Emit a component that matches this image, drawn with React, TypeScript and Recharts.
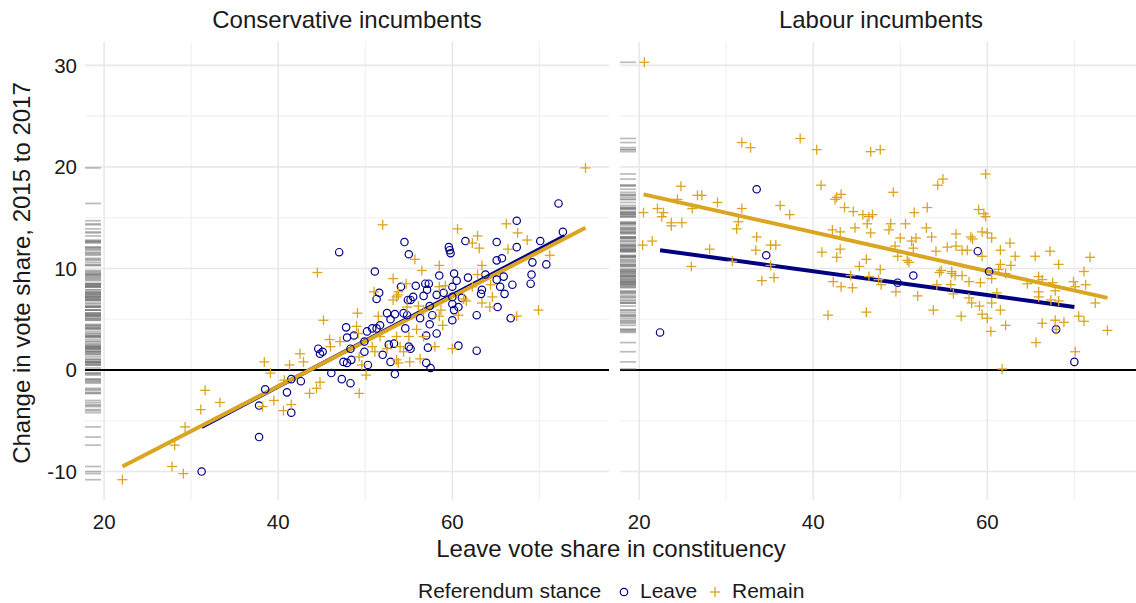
import React from 'react';
import { ScatterChart, Scatter, XAxis, YAxis, CartesianGrid, ReferenceLine } from 'recharts';

const FONT = '"Liberation Sans", Arial, Helvetica, sans-serif';
const LEAVE_COLOR = '#00008B';
const LEAVE_LINE = '#000080';
const REMAIN_COLOR = '#DAA520';

const xTicks = [20, 40, 60];
const xMinor = [30, 50, 70];
const yTicks = [-10, 0, 10, 20, 30];
const yMinor = [-5, 5, 15, 25];
const xDomain: [number, number] = [17.8, 78.0];
const yDomain: [number, number] = [-12.8, 32.3];

const panelTitles = ['Conservative incumbents', 'Labour incumbents'];
const stanceLabels = ['Leave', 'Remain'];
const legendTitle = 'Referendum stance';
const xTitle = 'Leave vote share in constituency';
const yTitle = 'Change in vote share, 2015 to 2017';

// Conservative incumbents
const conLeave: [number, number][] = [
  [31.2, -10.0], [37.8, -6.6], [37.8, -3.5], [38.5, -1.9], [41.0, -2.2], [41.5, -0.9], [42.6, -1.1], [41.5, -4.2],
  [47.0, 11.6], [54.5, 12.6], [55.0, 11.4], [51.1, 9.7], [54.1, 8.2], [51.6, 7.6], [51.3, 7.0], [47.8, 4.2],
  [48.7, 3.4], [47.9, 3.2], [44.6, 2.1], [45.1, 1.8], [44.8, 1.6], [48.3, 2.1], [47.5, 0.8], [47.9, 0.7],
  [48.4, 1.0], [46.1, -0.3], [47.3, -0.9], [48.3, -1.3], [50.2, 3.8], [50.8, 4.1], [51.3, 4.1], [51.7, 4.4],
  [52.9, 5.0], [52.5, 5.6], [53.4, 5.5], [52.7, 2.5], [53.3, 2.6], [52.0, 1.5], [52.9, 0.8], [53.4, -0.4],
  [50.3, 0.5], [49.9, 1.8], [49.9, 2.8], [55.0, 2.3], [54.6, 4.1], [54.8, 5.4],
  [67.4, 14.7], [72.2, 16.4], [59.6, 12.1], [59.7, 11.8], [59.8, 11.5], [61.5, 12.7], [65.1, 12.6], [67.4, 12.1],
  [70.1, 12.7], [65.1, 10.8], [65.7, 11.0], [69.2, 10.6], [70.8, 10.4], [69.1, 9.4], [69.0, 8.5], [58.5, 9.3],
  [60.2, 9.5], [60.5, 8.8], [61.8, 9.1], [63.8, 9.4], [65.1, 8.9], [65.9, 9.2], [66.9, 8.4], [65.5, 8.2],
  [63.4, 7.9], [63.3, 7.5], [66.0, 7.5], [65.2, 6.2], [62.8, 5.4], [66.7, 5.1], [60.0, 8.2], [60.0, 7.2],
  [60.0, 6.5], [60.2, 5.9], [60.7, 6.2], [61.1, 7.1], [60.0, 4.9], [56.9, 8.5], [57.3, 8.5], [57.1, 7.9],
  [55.8, 8.3], [55.2, 6.9], [54.9, 6.9], [55.5, 7.2], [56.7, 7.3], [58.2, 7.4], [59.0, 7.6], [54.4, 5.6],
  [57.4, 6.3], [57.7, 5.4], [56.3, 5.1], [57.4, 4.5], [58.2, 3.6], [57.0, 3.4], [55.2, 2.1], [57.2, 2.2],
  [60.7, 2.4], [62.8, 1.9], [57.0, 0.7], [57.5, 0.2], [72.7, 13.6],
];
const conRemain: [number, number][] = [
  [22.1, -10.8], [27.8, -9.5], [29.1, -10.2], [28.1, -7.4], [29.3, -5.6], [31.1, -3.9], [31.6, -2.0], [33.3, -3.2],
  [38.4, 0.8], [39.1, -0.3], [38.2, -3.6], [39.5, -3.0], [40.6, -4.0], [41.5, -3.4], [40.7, -1.0], [41.3, 0.5],
  [42.5, 1.6], [42.9, 0.8], [43.6, -2.3],
  [52.0, 14.3], [44.5, 9.6], [53.2, 9.0], [45.2, 4.9], [49.1, 5.6], [45.9, 3.0], [47.1, 2.8], [46.0, 2.3],
  [49.2, 3.6], [49.0, 4.3], [44.8, -1.2], [44.4, -1.8], [50.1, -0.5], [50.8, 2.3], [51.1, 1.8], [49.3, 1.3],
  [51.7, 3.3], [52.5, 2.1], [53.6, 1.0], [54.0, 2.3], [51.0, 7.7], [53.6, 7.2], [53.8, 7.7], [51.5, 5.3],
  [54.8, 6.2], [49.6, 0.5], [49.3, -2.3],
  [66.2, 14.4], [67.5, 13.5], [68.6, 12.8], [71.2, 11.3], [60.6, 13.9], [62.9, 13.2], [62.3, 12.5], [63.1, 12.0],
  [66.4, 11.9], [55.7, 10.9], [56.5, 9.8], [58.5, 10.3], [63.4, 10.3], [62.9, 9.4], [64.4, 8.4], [64.6, 7.2],
  [64.3, 6.2], [63.4, 6.6], [62.3, 8.2], [61.3, 7.0], [53.8, 7.4], [53.2, 6.9], [54.7, 8.5], [58.5, 8.2],
  [59.2, 8.3], [58.7, 5.9], [58.5, 5.3], [60.7, 5.4], [61.6, 6.8], [56.1, 6.3], [56.7, 5.9], [58.9, 4.4],
  [58.0, 2.3], [60.0, 2.1], [56.3, 1.1], [55.1, 0.8], [53.8, 0.7], [54.4, 1.8], [55.0, 3.3], [55.9, 4.0],
  [56.7, 3.3], [69.9, 5.9], [67.4, 5.3], [53.6, 3.3], [75.3, 19.9],
];

// Labour incumbents
const labLeave: [number, number][] = [
  [33.5, 17.8], [34.6, 11.3], [22.4, 3.7], [49.7, 8.6], [51.5, 9.3], [58.9, 11.7], [60.2, 9.7], [67.9, 4.0], [70.0, 0.8],
];
const labRemain: [number, number][] = [
  [20.6, 30.3], [31.8, 22.4], [32.8, 21.9], [38.5, 22.8], [24.8, 18.1], [24.4, 16.8], [26.7, 17.2], [27.2, 17.2],
  [29.0, 16.5], [31.8, 15.9], [36.2, 16.2], [37.3, 15.3], [20.5, 15.5], [22.1, 15.9], [22.8, 15.5], [22.6, 15.1],
  [23.7, 14.5], [23.7, 14.2], [24.9, 14.5], [26.1, 15.9], [31.4, 14.6], [31.2, 13.9], [33.5, 13.1], [33.4, 11.8],
  [35.1, 12.3], [35.7, 12.3], [20.4, 12.3], [21.5, 12.7], [28.1, 11.9], [26.0, 10.2], [30.7, 10.7], [35.1, 10.3],
  [34.1, 8.8], [35.5, 9.1],
  [40.4, 21.7], [46.6, 21.5], [47.7, 21.7], [40.9, 18.2], [42.7, 17.0], [43.2, 17.3], [42.5, 16.8], [43.6, 16.0],
  [44.6, 15.6], [45.7, 15.3], [46.4, 15.1], [46.8, 15.3], [46.2, 14.4], [49.2, 17.5], [54.3, 18.2], [54.9, 18.8],
  [53.1, 16.0], [51.6, 15.5], [48.9, 14.4], [50.6, 14.4], [48.7, 13.8], [53.0, 14.0], [42.2, 13.8], [43.1, 13.6],
  [44.8, 14.0], [46.6, 13.5], [50.0, 13.0], [51.3, 12.7], [51.8, 13.0], [53.6, 13.1], [56.4, 13.4], [41.0, 11.6],
  [43.1, 11.9], [42.7, 11.1], [49.4, 12.2], [51.5, 12.0], [49.7, 11.2], [50.8, 10.8], [51.0, 10.6], [54.1, 11.7],
  [55.4, 12.1], [56.4, 12.2], [46.1, 10.9], [45.3, 10.2], [47.7, 9.9], [44.3, 9.3], [46.4, 9.2], [47.5, 8.9],
  [42.3, 8.7], [43.2, 8.2], [44.5, 8.1], [47.8, 8.4], [49.5, 7.7], [52.0, 7.3], [54.2, 8.4], [54.7, 9.8],
  [54.5, 9.6], [55.9, 9.5], [55.8, 8.4], [56.1, 7.5], [53.8, 5.9], [41.7, 5.4], [46.1, 5.7],
  [59.8, 19.3], [59.0, 15.8], [59.6, 15.4], [59.8, 15.1], [58.1, 13.1], [59.4, 13.6], [60.0, 13.5], [60.5, 13.0],
  [58.3, 12.9], [62.6, 12.5], [57.1, 11.8], [57.7, 11.8], [61.5, 11.8], [59.4, 11.2], [63.2, 11.2], [65.5, 11.2],
  [67.2, 11.7], [71.8, 11.1], [68.2, 10.4], [61.5, 10.4], [62.7, 10.3], [61.3, 9.9], [62.1, 9.5], [55.9, 9.7],
  [56.3, 9.3], [57.1, 9.3], [57.9, 8.7], [59.2, 8.6], [60.5, 9.0], [65.9, 9.2], [66.3, 8.9], [64.6, 8.5],
  [67.5, 8.6], [69.9, 8.7], [71.1, 9.7], [71.3, 8.4], [70.1, 8.2], [67.8, 7.8], [65.9, 7.7], [61.1, 7.6],
  [65.9, 7.2], [67.3, 6.9], [68.2, 6.8], [72.4, 6.6], [57.9, 7.1], [58.2, 6.6], [59.1, 6.3], [60.5, 6.6],
  [61.5, 5.9], [59.4, 5.5], [60.0, 5.1], [57.0, 5.3], [62.1, 4.4], [60.4, 3.8], [66.3, 4.6], [67.8, 4.9],
  [68.8, 4.7], [70.5, 5.3], [71.1, 4.8], [73.8, 3.9], [65.6, 2.7], [70.1, 1.8], [61.7, 0.1], [67.9, 4.0],
];

// Fitted lines (endpoints)
const conLeaveFit: [number, number][] = [[31.2, -5.6], [72.9, 13.2]];
const conRemainFit: [number, number][] = [[22.1, -9.5], [75.3, 14.0]];
const labLeaveFit: [number, number][] = [[22.4, 11.8], [70.0, 6.2]];
const labRemainFit: [number, number][] = [[20.5, 17.3], [73.8, 7.1]];

const toXY = (arr: [number, number][]) => arr.map(([x, y]) => ({ x, y }));
const toRug = (arrs: [number, number][][]) =>
  arrs.flat().map(([, y]) => ({ x: xDomain[0], y }));

const LeaveShape = (p: any) => (
  <circle cx={p.cx} cy={p.cy} r={3.7} fill="none" stroke={LEAVE_COLOR} strokeWidth={1.2} />
);
const RemainShape = (p: any) => (
  <g stroke={REMAIN_COLOR} strokeWidth={1.3}>
    <line x1={p.cx - 5} x2={p.cx + 5} y1={p.cy} y2={p.cy} />
    <line x1={p.cx} x2={p.cx} y1={p.cy - 5} y2={p.cy + 5} />
  </g>
);
const RugShape = (p: any) => (
  <line x1={p.cx} x2={p.cx + 16} y1={p.cy} y2={p.cy} stroke="#7a7a7a" strokeOpacity={0.5} strokeWidth={1.7} />
);

const tickStyle = { fontSize: 20.5, fill: '#1a1a1a', fontFamily: FONT };

type PanelProps = {
  leave: [number, number][];
  remain: [number, number][];
  leaveFit: [number, number][];
  remainFit: [number, number][];
  showY: boolean;
  width: number;
  margin: { top: number; right: number; bottom: number; left: number };
};

function Panel({ leave, remain, leaveFit, remainFit, showY, width, margin }: PanelProps) {
  return (
    <ScatterChart width={width} height={603} margin={margin}>
      <CartesianGrid stroke="#f0f0f0" strokeWidth={1.1} horizontalValues={yMinor} verticalValues={xMinor} />
      <CartesianGrid stroke="#e8e8e8" strokeWidth={1.6} horizontalValues={yTicks} verticalValues={xTicks} />
      <XAxis
        type="number"
        dataKey="x"
        domain={xDomain}
        ticks={xTicks}
        allowDataOverflow
        axisLine={false}
        tickLine={false}
        tickMargin={8}
        height={30}
        tick={tickStyle}
      />
      <YAxis
        type="number"
        dataKey="y"
        domain={yDomain}
        ticks={yTicks}
        allowDataOverflow
        axisLine={false}
        tickLine={false}
        width={60}
        hide={!showY}
        tick={tickStyle}
      />
      <Scatter data={toRug([leave, remain])} shape={RugShape} isAnimationActive={false} />
      <Scatter data={toXY(leave)} shape={LeaveShape} isAnimationActive={false} />
      <Scatter data={toXY(remain)} shape={RemainShape} isAnimationActive={false} />
      <ReferenceLine y={0} stroke="#000" strokeWidth={2} />
      <ReferenceLine
        segment={toXY(leaveFit)}
        stroke={LEAVE_LINE}
        strokeWidth={4}
        ifOverflow="visible"
      />
      <ReferenceLine
        segment={toXY(remainFit)}
        stroke={REMAIN_COLOR}
        strokeWidth={4}
        ifOverflow="visible"
      />
    </ScatterChart>
  );
}

export default function App() {
  return (
    <div
      style={{
        position: 'absolute',
        left: 0,
        top: 0,
        width: 1136,
        height: 603,
        overflow: 'hidden',
        background: '#fff',
        fontFamily: FONT,
      }}
    >
      <div style={{ position: 'absolute', left: 0, top: 0 }}>
        <Panel
          leave={conLeave}
          remain={conRemain}
          leaveFit={conLeaveFit}
          remainFit={conRemainFit}
          showY
          width={1136}
          margin={{ top: 42, right: 527, bottom: 73, left: 25 }}
        />
      </div>
      <div style={{ position: 'absolute', left: 0, top: 0 }}>
        <Panel
          leave={labLeave}
          remain={labRemain}
          leaveFit={labLeaveFit}
          remainFit={labRemainFit}
          showY={false}
          width={1160}
          margin={{ top: 42, right: 16, bottom: 73, left: 620 }}
        />
      </div>
      <svg
        width={1136}
        height={603}
        style={{ position: 'absolute', left: 0, top: 0, pointerEvents: 'none' }}
        fontFamily={FONT}
      >
        <text x={347} y={28} textAnchor="middle" fontSize={24} fill="#1a1a1a">{panelTitles[0]}</text>
        <text x={881} y={28} textAnchor="middle" fontSize={24} fill="#1a1a1a">{panelTitles[1]}</text>
        <text x={611} y={557} textAnchor="middle" fontSize={24} fill="#1a1a1a">{xTitle}</text>
        <text transform="translate(30,273) rotate(-90)" textAnchor="middle" fontSize={24} fill="#1a1a1a">{yTitle}</text>
        <text x={418} y={598} fontSize={21} fill="#1a1a1a">{legendTitle}</text>
        <circle cx={624} cy={592} r={3.7} fill="none" stroke={LEAVE_COLOR} strokeWidth={1.2} />
        <text x={640} y={598} fontSize={21} fill="#1a1a1a">{stanceLabels[0]}</text>
        <g stroke={REMAIN_COLOR} strokeWidth={1.3}>
          <line x1={710} x2={720} y1={592} y2={592} />
          <line x1={715} x2={715} y1={587} y2={597} />
        </g>
        <text x={732} y={598} fontSize={21} fill="#1a1a1a">{stanceLabels[1]}</text>
      </svg>
    </div>
  );
}
